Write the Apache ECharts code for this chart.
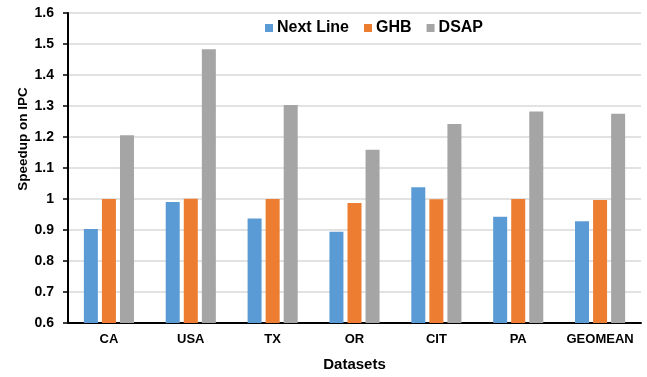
<!DOCTYPE html>
<html>
<head>
<meta charset="utf-8">
<script src="https://cdn.jsdelivr.net/npm/echarts@6/dist/echarts.min.js"></script>
<style>
html, body { margin: 0; padding: 0; background: #fff; }
#chart { width: 647px; height: 377px; }
</style>
</head>
<body>
<div id="chart"></div>
<script>
// Datasets on the x axis
const categories = ['CA', 'USA', 'TX', 'OR', 'CIT', 'PA', 'GEOMEAN'];
// IPC speedup per prefetcher
const nextLine = [0.903, 0.990, 0.937, 0.894, 1.038, 0.943, 0.928];
const ghb      = [1.000, 1.001, 1.000, 0.987, 0.999, 1.000, 0.997];
const dsap     = [1.206, 1.483, 1.303, 1.159, 1.242, 1.282, 1.275];

const FONT = '"Liberation Sans", Arial, sans-serif';

const chart = echarts.init(document.getElementById('chart'), null, { renderer: 'canvas' });

function bar(name, data, color) {
  return {
    name: name,
    type: 'bar',
    data: data,
    barWidth: 14,
    barGap: '29%',
    itemStyle: { color: color },
    emphasis: { disabled: true }
  };
}

chart.setOption({
  animation: false,
  grid: { left: 68, right: 6, top: 13, bottom: 50, containLabel: false },
  legend: {
    top: 20,
    left: 265,
    padding: 0,
    itemWidth: 8,
    itemHeight: 8,
    itemGap: 15,
    icon: 'rect',
    textStyle: { fontFamily: FONT, fontWeight: 'bold', fontSize: 16, color: '#000', padding: [0, 0, 0, -1] },
    data: ['Next Line', 'GHB', 'DSAP']
  },
  xAxis: {
    type: 'category',
    data: categories,
    name: 'Datasets',
    nameLocation: 'middle',
    nameGap: 34,
    nameTextStyle: { fontFamily: FONT, fontWeight: 'bold', fontSize: 15, color: '#000' },
    axisLine: { lineStyle: { color: '#000', width: 2 } },
    axisTick: { show: false },
    axisLabel: { interval: 0, fontFamily: FONT, fontWeight: 'bold', fontSize: 13, color: '#000', margin: 10 }
  },
  yAxis: {
    type: 'value',
    min: 0.6,
    max: 1.6,
    interval: 0.1,
    name: 'Speedup on IPC',
    nameLocation: 'middle',
    nameGap: 38,
    nameMoveOverlap: false,
    // title sits above the axis middle
    nameTextStyle: { fontFamily: FONT, fontWeight: 'bold', fontSize: 13.5, color: '#000', padding: [0, 0, 0, 58] },
    axisLine: { show: true, lineStyle: { color: '#000', width: 2 } },
    axisTick: { show: true, length: 5, lineStyle: { color: '#000', width: 1.5 } },
    axisLabel: {
      fontFamily: FONT, fontWeight: 'bold', fontSize: 14, color: '#000', margin: 14,
      formatter: v => String(Math.round(v * 10) / 10)
    },
    splitLine: { lineStyle: { color: '#d9d9d9', width: 1.5 } }
  },
  series: [
    bar('Next Line', nextLine, '#5B9BD5'),
    bar('GHB', ghb, '#ED7D31'),
    bar('DSAP', dsap, '#A5A5A5')
  ]
});
</script>
</body>
</html>
